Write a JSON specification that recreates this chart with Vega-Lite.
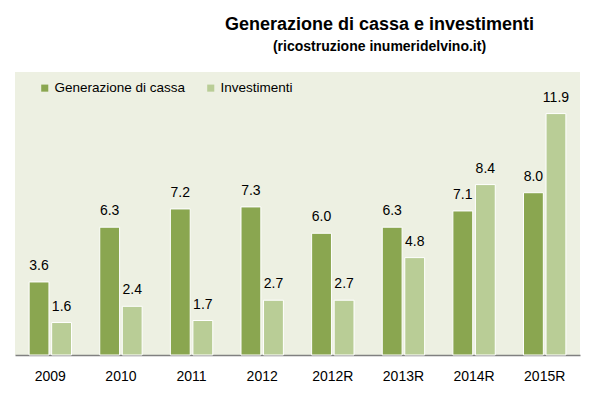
{
  "$schema": "https://vega.github.io/schema/vega-lite/v6.json",
  "autosize": {"type": "none"},
  "width": 565,
  "height": 283,
  "padding": {"left": 15, "top": 72, "right": 15, "bottom": 39},
  "background": "white",
  "config": {
    "font": "Liberation Sans",
    "view": {"fill": "#EDF0E2", "stroke": null}
  },
  "title": {
    "text": "Generazione di cassa e investimenti",
    "subtitle": "(ricostruzione inumeridelvino.it)",
    "fontSize": 18,
    "fontWeight": "bold",
    "subtitleFontSize": 14,
    "subtitleFontWeight": "bold",
    "subtitleColor": "black",
    "color": "black",
    "anchor": "middle",
    "dx": 82,
    "offset": 18,
    "subtitlePadding": 6
  },
  "data": {
    "values": [
      {"anno": "2009", "serie": "Generazione di cassa", "valore": 3.6},
      {"anno": "2009", "serie": "Investimenti", "valore": 1.6},
      {"anno": "2010", "serie": "Generazione di cassa", "valore": 6.3},
      {"anno": "2010", "serie": "Investimenti", "valore": 2.4},
      {"anno": "2011", "serie": "Generazione di cassa", "valore": 7.2},
      {"anno": "2011", "serie": "Investimenti", "valore": 1.7},
      {"anno": "2012", "serie": "Generazione di cassa", "valore": 7.3},
      {"anno": "2012", "serie": "Investimenti", "valore": 2.7},
      {"anno": "2012R", "serie": "Generazione di cassa", "valore": 6.0},
      {"anno": "2012R", "serie": "Investimenti", "valore": 2.7},
      {"anno": "2013R", "serie": "Generazione di cassa", "valore": 6.3},
      {"anno": "2013R", "serie": "Investimenti", "valore": 4.8},
      {"anno": "2014R", "serie": "Generazione di cassa", "valore": 7.1},
      {"anno": "2014R", "serie": "Investimenti", "valore": 8.4},
      {"anno": "2015R", "serie": "Generazione di cassa", "valore": 8.0},
      {"anno": "2015R", "serie": "Investimenti", "valore": 11.9}
    ]
  },
  "encoding": {
    "x": {
      "field": "anno",
      "type": "nominal",
      "sort": null,
      "scale": {"paddingInner": 0.4, "paddingOuter": 0.2},
      "axis": {
        "title": null,
        "labelAngle": 0,
        "labelFontSize": 14,
        "labelColor": "black",
        "labelPadding": 14,
        "ticks": false,
        "domainColor": "#808080",
        "domainWidth": 1.5
      }
    },
    "xOffset": {"field": "serie", "type": "nominal", "scale": {"paddingInner": 0.12}},
    "y": {
      "field": "valore",
      "type": "quantitative",
      "scale": {"domain": [0, 13.95], "nice": false},
      "axis": null
    }
  },
  "layer": [
    {
      "mark": {"type": "bar", "stroke": "white", "strokeWidth": 1},
      "encoding": {
        "color": {
          "field": "serie",
          "type": "nominal",
          "scale": {"domain": ["Generazione di cassa", "Investimenti"], "range": ["#8AA650", "#B9CD96"]},
          "legend": {
            "title": null,
            "orient": "none",
            "legendX": 23,
            "legendY": 9,
            "direction": "horizontal",
            "symbolType": "square",
            "symbolSize": 50,
            "symbolStrokeWidth": 0,
            "labelFontSize": 13.5,
            "labelColor": "black",
            "labelOffset": 3,
            "columnPadding": 18
          }
        }
      }
    },
    {
      "mark": {"type": "text", "baseline": "bottom", "dy": -9, "fontSize": 14, "color": "black"},
      "encoding": {
        "text": {"field": "valore", "type": "quantitative", "format": ".1f"}
      }
    }
  ]
}
